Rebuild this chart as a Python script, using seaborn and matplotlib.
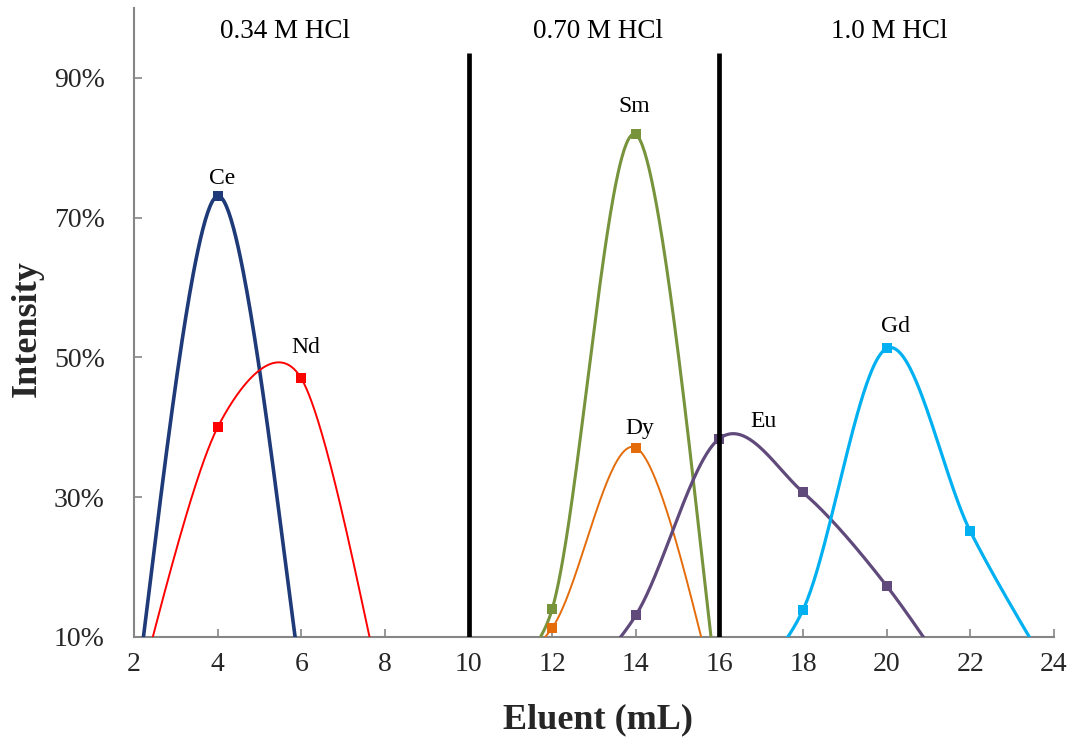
import numpy as np
import pandas as pd
import matplotlib
matplotlib.use("Agg")
import matplotlib.pyplot as plt
from matplotlib.ticker import PercentFormatter, FixedLocator
import seaborn as sns

# Elution fractions (mL) and measured relative intensities for each element
ce_x = [2, 4, 6]
ce_y = [0.00, 0.731, 0.04]
nd_x = [2, 4, 6, 8]
nd_y = [0.00, 0.40, 0.470, 0.00]
sm_x = [10, 12, 14, 16]
sm_y = [0.00, 0.140, 0.819, 0.00]
dy_x = [10, 12, 14, 16]
dy_y = [0.03, 0.113, 0.371, 0.00]
eu_x = [12, 14, 16, 18, 20, 22]
eu_y = [0.00, 0.131, 0.384, 0.307, 0.173, 0.00]
gd_x = [16, 18, 20, 22, 24]
gd_y = [0.00, 0.139, 0.513, 0.251, 0.04]

elements = ["Ce", "Nd", "Sm", "Dy", "Eu", "Gd"]
xs = [ce_x, nd_x, sm_x, dy_x, eu_x, gd_x]
ys = [ce_y, nd_y, sm_y, dy_y, eu_y, gd_y]

# Eluent concentration regions
region_labels = ["0.34 M HCl", "0.70 M HCl", "1.0 M HCl"]
region_label_x = [5.6, 13.1, 20.05]
divider_x = [10, 16]
divider_top = 0.935

x_ticks = list(range(2, 25, 2))
y_ticks = [0.10, 0.30, 0.50, 0.70, 0.90]

colors = {"Ce": "#1F3A78", "Nd": "#FF0000", "Sm": "#77933C",
          "Dy": "#E46C0A", "Eu": "#604A7B", "Gd": "#00B0F0"}
widths = {"Ce": 2.6, "Nd": 1.4, "Sm": 2.2, "Dy": 1.4, "Eu": 2.3, "Gd": 2.3}
# label anchor positions (x, y) above each peak
label_pos = {"Ce": (4.1, 0.756), "Nd": (6.1, 0.514), "Sm": (13.97, 0.859),
             "Dy": (14.1, 0.399), "Eu": (17.05, 0.409), "Gd": (20.22, 0.544)}

XLIM = (2, 24)
YLIM = (0.10, 1.00)
AX_W_PX, AX_H_PX = 920, 629


def smooth_curve(x, y, n=80):
    """Spreadsheet-style smoothed line: cubic Bezier segments whose handles
    are 1/6 of the neighbour chord, capped at half the segment length
    (lengths measured in display pixels)."""
    sx = AX_W_PX / (XLIM[1] - XLIM[0])
    sy = AX_H_PX / (YLIM[1] - YLIM[0])
    pts = np.column_stack([x, y]).astype(float)
    scr = pts * np.array([sx, sy])
    padded = np.vstack([pts[0], pts, pts[-1]])
    pscr = np.vstack([scr[0], scr, scr[-1]])
    segs = []
    t = np.linspace(0, 1, n)[:, None]
    for i in range(len(pts) - 1):
        p0, p1, p2, p3 = padded[i], padded[i + 1], padded[i + 2], padded[i + 3]
        s0, s1, s2, s3 = pscr[i], pscr[i + 1], pscr[i + 2], pscr[i + 3]
        d02 = np.linalg.norm(s2 - s0)
        d13 = np.linalg.norm(s3 - s1)
        d12 = np.linalg.norm(s2 - s1)
        f1 = 1 / 6 if d02 == 0 else min(1 / 6, 0.5 * d12 / d02)
        f2 = 1 / 6 if d13 == 0 else min(1 / 6, 0.5 * d12 / d13)
        c1 = p1 + (p2 - p0) * f1
        c2 = p2 - (p3 - p1) * f2
        seg = ((1 - t) ** 3) * p1 + 3 * ((1 - t) ** 2) * t * c1 \
            + 3 * (1 - t) * (t ** 2) * c2 + (t ** 3) * p2
        segs.append(seg if i == 0 else seg[1:])
    return np.vstack(segs)


sns.set_theme(style="white")
plt.rcParams["font.family"] = ["Liberation Serif", "DejaVu Serif"]

fig = plt.figure(figsize=(10.79, 7.47), dpi=100)
ax = fig.add_axes([134 / 1079, 110 / 747, AX_W_PX / 1079, AX_H_PX / 747])

for el, x, y in zip(elements, xs, ys):
    curve = smooth_curve(x, y)
    df_curve = pd.DataFrame({"x": curve[:, 0], "y": curve[:, 1]})
    sns.lineplot(data=df_curve, x="x", y="y", sort=False, estimator=None,
                 color=colors[el], linewidth=widths[el], ax=ax, zorder=3)
    df_pts = pd.DataFrame({"x": x, "y": y})
    sns.scatterplot(data=df_pts, x="x", y="y", marker="s", s=42,
                    color=colors[el], edgecolor=colors[el], linewidth=0,
                    ax=ax, zorder=4)
    lx, ly = label_pos[el]
    ax.text(lx, ly, el, ha="center", va="center", fontsize=17, color="black")

ax.vlines(divider_x, 0.10, divider_top, colors="black", linewidth=3.4, zorder=5)

for lab, lx in zip(region_labels, region_label_x):
    ax.text(lx, 0.967, lab, ha="center", va="center", fontsize=19.5,
            color="black")

ax.set_xlim(*XLIM)
ax.set_ylim(*YLIM)
ax.xaxis.set_major_locator(FixedLocator(x_ticks))
ax.yaxis.set_major_locator(FixedLocator(y_ticks))
ax.yaxis.set_major_formatter(PercentFormatter(1.0, decimals=0))

ax.tick_params(axis="both", which="major", direction="in", length=6,
               width=1.2, color="#868686", labelsize=20,
               bottom=True, left=True)
ax.tick_params(axis="x", pad=11)
ax.tick_params(axis="y", pad=21)

for side in ["top", "right"]:
    ax.spines[side].set_visible(False)
for side in ["left", "bottom"]:
    ax.spines[side].set_color("#868686")
    ax.spines[side].set_linewidth(1.5)

ax.set_xlabel("Eluent (mL)", fontsize=26, fontweight="bold")
ax.set_ylabel("Intensity", fontsize=26, fontweight="bold")
ax.xaxis.label.set_va("center")
ax.yaxis.label.set_va("center")
ax.xaxis.set_label_coords(0.504, -0.132)
ax.yaxis.set_label_coords(-0.116, 0.491)

ax.grid(False)
fig.savefig("out.png", dpi=100, facecolor="white")
